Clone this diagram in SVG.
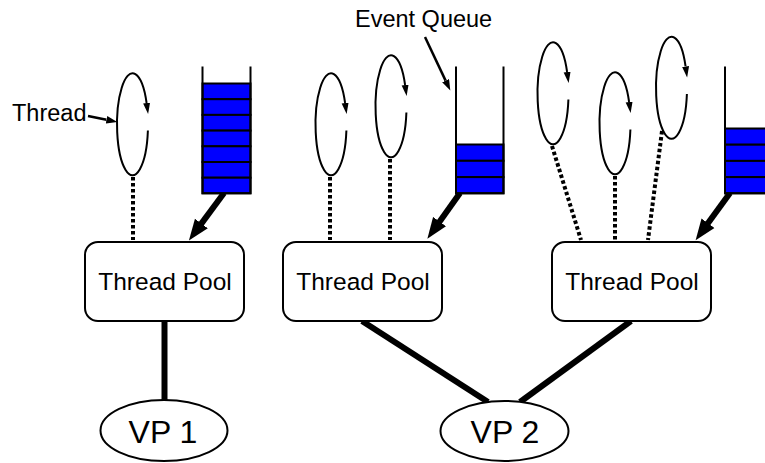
<svg xmlns="http://www.w3.org/2000/svg" xmlns:xlink="http://www.w3.org/1999/xlink" width="765" height="463" viewBox="0 0 765 463">
<style>
  .txt { font-family: "Liberation Sans", Arial, sans-serif; fill: #000; }
  .lbl { font-size: 23.5px; }
  .pool { font-size: 24.5px; }
  .big { font-size: 32px; }
  .box { fill: #fff; stroke: #000; stroke-width: 2; }
  .loop { fill: none; stroke: #000; stroke-width: 2; marker-end: url(#mLoop); }
  .dot { fill: none; stroke: #000; stroke-width: 4; stroke-dasharray: 3.5 2.5; }
  .thick { fill: none; stroke: #000; stroke-width: 6; }
  .thin { fill: none; stroke: #000; stroke-width: 2.5; }
  .wall { fill: none; stroke: #000; stroke-width: 2; }
  .cell { fill: #0000ff; stroke: #000; stroke-width: 2; }
</style>
<defs>
  <marker id="mLoop" markerUnits="userSpaceOnUse" markerWidth="12" markerHeight="8" viewBox="0 -4 12 8" refX="0" refY="0" orient="auto">
    <path d="M0,-3.5 L11,0 L0,3.5 z" fill="#000"/>
  </marker>
  <marker id="mThin" markerUnits="userSpaceOnUse" markerWidth="12" markerHeight="8" viewBox="0 -4 12 8" refX="0" refY="0" orient="auto">
    <path d="M0,-3.8 L11,0 L0,3.8 z" fill="#000"/>
  </marker>
  <marker id="mThick" markerUnits="userSpaceOnUse" markerWidth="22" markerHeight="18" viewBox="0 -9 22 18" refX="1" refY="0" orient="auto">
    <path d="M0,-8 L21,0 L0,8 z" fill="#000"/>
  </marker>
  <path id="loopA" d="M 15.4,6.5 A 15.5 51 0 1 1 14.1,-21"/>
</defs>

<!-- connectors -->
<g id="connectors">
  <!-- dotted thread links -->
  <line class="dot" x1="133" y1="177" x2="133" y2="240"/>
  <line class="dot" x1="330" y1="177" x2="330" y2="240"/>
  <line class="dot" x1="390" y1="159" x2="390" y2="240"/>
  <line class="dot" x1="552" y1="146" x2="581" y2="240"/>
  <line class="dot" x1="615" y1="176" x2="615" y2="240"/>
  <line class="dot" x1="662" y1="131" x2="648" y2="240"/>
  <!-- queue to pool arrows -->
  <line class="thick" x1="224" y1="193" x2="200.8" y2="224.4" marker-end="url(#mThick)"/>
  <line class="thick" x1="460" y1="193" x2="439" y2="222.4" marker-end="url(#mThick)"/>
  <line class="thick" x1="730" y1="193" x2="707.4" y2="224" marker-end="url(#mThick)"/>
  <!-- pools to VPs -->
  <line class="thick" x1="164.5" y1="321" x2="164.5" y2="400"/>
  <line class="thick" x1="362" y1="321" x2="488" y2="402"/>
  <line class="thick" x1="631" y1="321" x2="520" y2="402"/>
  <!-- label arrows -->
  <line class="thin" x1="88" y1="116" x2="106.5" y2="119.8" marker-end="url(#mThin)"/>
  <line class="thin" x1="425" y1="37" x2="445.6" y2="80.6" marker-end="url(#mThin)"/>
</g>

<!-- labels -->
<g id="label-thread"><text class="txt lbl" x="12" y="121">Thread</text></g>
<g id="label-event-queue"><text class="txt lbl" x="355" y="27">Event Queue</text></g>

<!-- threads -->
<g id="thread1"><use xlink:href="#loopA" class="loop" x="132.5" y="124"/></g>
<g id="thread2"><use xlink:href="#loopA" class="loop" x="331" y="124"/></g>
<g id="thread3"><use xlink:href="#loopA" class="loop" x="391" y="106"/></g>
<g id="thread4"><use xlink:href="#loopA" class="loop" x="553" y="93"/></g>
<g id="thread5"><use xlink:href="#loopA" class="loop" x="615" y="123"/></g>
<g id="thread6"><use xlink:href="#loopA" class="loop" x="671.5" y="87.5"/></g>

<!-- queues -->
<g id="queue1">
  <rect class="cell" x="202.5" y="83.5" width="48" height="15.7"/>
  <rect class="cell" x="202.5" y="99.2" width="48" height="15.7"/>
  <rect class="cell" x="202.5" y="114.9" width="48" height="15.7"/>
  <rect class="cell" x="202.5" y="130.6" width="48" height="15.7"/>
  <rect class="cell" x="202.5" y="146.3" width="48" height="15.7"/>
  <rect class="cell" x="202.5" y="162" width="48" height="15.7"/>
  <rect class="cell" x="202.5" y="177.7" width="48" height="15.6"/>
  <path class="wall" d="M202.5,66.5 V193.3 H250.5 V66.5"/>
</g>
<g id="queue2">
  <rect class="cell" x="456" y="144.5" width="47.5" height="16.3"/>
  <rect class="cell" x="456" y="160.8" width="47.5" height="16.3"/>
  <rect class="cell" x="456" y="177.1" width="47.5" height="16.2"/>
  <path class="wall" d="M456,66.5 V193.3 H503.5 V66.5"/>
</g>
<g id="queue3">
  <rect class="cell" x="725" y="128.5" width="48" height="16.2"/>
  <rect class="cell" x="725" y="144.7" width="48" height="16.2"/>
  <rect class="cell" x="725" y="160.9" width="48" height="16.2"/>
  <rect class="cell" x="725" y="177.1" width="48" height="16.2"/>
  <path class="wall" d="M725,66.5 V193.3 H773"/>
</g>

<!-- thread pools -->
<g id="pool1">
  <rect class="box" x="85" y="242" width="159" height="79" rx="13"/>
  <text class="txt pool" x="165" y="289.5" text-anchor="middle">Thread Pool</text>
</g>
<g id="pool2">
  <rect class="box" x="283" y="242" width="159" height="79" rx="13"/>
  <text class="txt pool" x="363" y="289.5" text-anchor="middle">Thread Pool</text>
</g>
<g id="pool3">
  <rect class="box" x="552" y="242" width="159" height="79" rx="13"/>
  <text class="txt pool" x="632" y="289.5" text-anchor="middle">Thread Pool</text>
</g>

<!-- VPs -->
<g id="vp1">
  <ellipse class="box" cx="164" cy="430.5" rx="63.5" ry="30.5"/>
  <text class="txt big" x="163" y="443" text-anchor="middle">VP 1</text>
</g>
<g id="vp2">
  <ellipse class="box" cx="504.5" cy="431" rx="64" ry="30"/>
  <text class="txt big" x="505" y="443" text-anchor="middle">VP 2</text>
</g>
</svg>
